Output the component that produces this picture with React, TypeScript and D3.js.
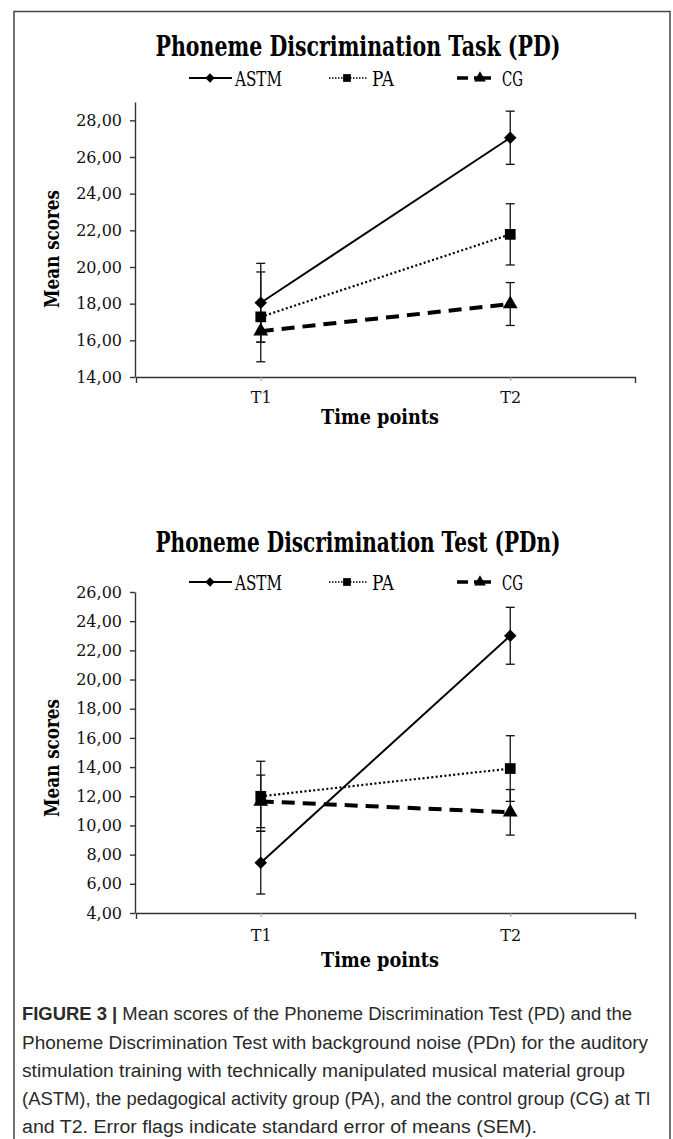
import React, { useEffect, useRef } from 'react';
import * as d3 from 'd3';

// categories
const timePoints = ['T1', 'T2'];
const groupNames = ['ASTM', 'PA', 'CG'];

// Phoneme Discrimination Task (PD): means and SEM at T1, T2
const pdAstm = [18.05, 27.05];
const pdAstmSem = [2.15, 1.45];
const pdPa = [17.28, 21.78];
const pdPaSem = [2.45, 1.67];
const pdCg = [16.5, 17.98];
const pdCgSem = [0.6, 1.17];
const pdTicks = [14, 16, 18, 20, 22, 24, 26, 28];

// Phoneme Discrimination Test with noise (PDn)
const pdnAstm = [7.45, 23.0];
const pdnAstmSem = [2.15, 1.95];
const pdnPa = [12.0, 13.9];
const pdnPaSem = [2.4, 2.25];
const pdnCg = [11.65, 10.9];
const pdnCgSem = [1.8, 1.56];
const pdnTicks = [4, 6, 8, 10, 12, 14, 16, 18, 20, 22, 24, 26];

const captionLines = [
  'Mean scores of the Phoneme Discrimination Test (PD) and the',
  'Phoneme Discrimination Test with background noise (PDn) for the auditory',
  'stimulation training with technically manipulated musical material group',
  '(ASTM), the pedagogical activity group (PA), and the control group (CG) at Tl',
  'and T2. Error flags indicate standard error of means (SEM).',
];

const SERIF = "'DejaVu Serif', serif";
const SANS = "'Liberation Sans', Arial, sans-serif";

// line style per group
const styles = {
  ASTM: { dash: null, width: 2, symbol: d3.symbolDiamond2, size: 100, legendSize: 55 },
  PA: { dash: '2 2.4', width: 2.2, symbol: d3.symbolSquare, size: 115, legendSize: 60 },
  CG: { dash: '13 8', width: 4, symbol: d3.symbolTriangle, size: 95, legendSize: 60 },
};

const panels = [
  {
    title: 'Phoneme Discrimination Task (PD)',
    titleY: 56,
    legendY: 78,
    domain: [14, 29],
    range: [377, 102],
    ticks: pdTicks,
    tickPad: 11,
    axisTitleY: 424,
    meanY: 249,
    series: [
      { name: 'ASTM', values: pdAstm, sem: pdAstmSem },
      { name: 'PA', values: pdPa, sem: pdPaSem },
      { name: 'CG', values: pdCg, sem: pdCgSem },
    ],
  },
  {
    title: 'Phoneme Discrimination Test (PDn)',
    titleY: 552,
    legendY: 582,
    domain: [4, 26],
    range: [913, 592],
    ticks: pdnTicks,
    tickPad: 13,
    axisTitleY: 967,
    meanY: 758,
    series: [
      { name: 'ASTM', values: pdnAstm, sem: pdnAstmSem },
      { name: 'PA', values: pdnPa, sem: pdnPaSem },
      { name: 'CG', values: pdnCg, sem: pdnCgSem },
    ],
  },
];

// legend x layout: line start, line end, symbol x, text x, text width
const legendPos = {
  ASTM: { x0: 189, x1: 232, sx: 210, tx: 235, tw: 47 },
  PA: { x0: 329, x1: 368, sx: 347, tx: 372, tw: 22 },
  CG: { x0: 457, x1: 491, sx: 480, tx: 502, tw: 21 },
};

const drawPanel = (svg, p) => {
  const x = d3.scalePoint().domain(timePoints).range([136, 635]).padding(0.5);
  const y = d3.scaleLinear().domain(p.domain).range(p.range);
  const g = svg.append('g');

  // title
  g.append('text')
    .attr('x', 358)
    .attr('y', p.titleY)
    .attr('text-anchor', 'middle')
    .attr('font-family', SERIF)
    .attr('font-weight', 'bold')
    .attr('font-size', 28)
    .attr('textLength', 405)
    .attr('lengthAdjust', 'spacingAndGlyphs')
    .text(p.title);

  // legend
  groupNames.forEach(name => {
    const s = styles[name];
    const lp = legendPos[name];
    const ly = p.legendY;
    if (name === 'CG') {
      g.append('line').attr('x1', lp.x0).attr('x2', lp.x0 + 11).attr('y1', ly).attr('y2', ly)
        .attr('stroke', '#000').attr('stroke-width', 3.5);
      g.append('line').attr('x1', lp.x0 + 17).attr('x2', lp.x1).attr('y1', ly).attr('y2', ly)
        .attr('stroke', '#000').attr('stroke-width', 3.5);
    } else {
      g.append('line').attr('x1', lp.x0).attr('x2', lp.x1).attr('y1', ly).attr('y2', ly)
        .attr('stroke', '#000').attr('stroke-width', name === 'PA' ? 1.6 : 2)
        .attr('stroke-dasharray', name === 'PA' ? '1.5 1.5' : null);
    }
    g.append('path')
      .attr('d', d3.symbol().type(s.symbol).size(s.legendSize)())
      .attr('transform', `translate(${lp.sx},${ly})`)
      .attr('fill', '#000');
    g.append('text')
      .attr('x', lp.tx)
      .attr('y', ly + 7.5)
      .attr('font-family', SERIF)
      .attr('font-size', 21)
      .attr('textLength', lp.tw)
      .attr('lengthAdjust', 'spacingAndGlyphs')
      .text(name);
  });

  // axes
  const yAxis = g.append('g')
    .attr('transform', 'translate(135,0)')
    .call(
      d3.axisLeft(y)
        .tickValues(p.ticks)
        .tickSize(5)
        .tickSizeOuter(0)
        .tickPadding(8)
        .tickFormat(d => d.toFixed(2).replace('.', ','))
    );
  yAxis.attr('font-family', SERIF).attr('font-size', 16);
  yAxis.selectAll('text').attr('fill', '#111');
  yAxis.selectAll('path,line').attr('stroke', '#333').attr('stroke-width', 1.4);

  const xAxis = g.append('g')
    .attr('transform', `translate(0,${p.range[0]})`)
    .call(d3.axisBottom(x).tickSize(4).tickSizeOuter(6).tickPadding(p.tickPad));
  xAxis.attr('font-family', SERIF).attr('font-size', 16);
  xAxis.selectAll('text').attr('fill', '#111');
  xAxis.selectAll('path,line').attr('stroke', '#333').attr('stroke-width', 1.4);
  xAxis.selectAll('.tick line').attr('stroke', '#999').attr('stroke-width', 1);

  // axis titles
  g.append('text')
    .attr('x', 380)
    .attr('y', p.axisTitleY)
    .attr('text-anchor', 'middle')
    .attr('font-family', SERIF)
    .attr('font-weight', 'bold')
    .attr('font-size', 20)
    .attr('textLength', 118)
    .attr('lengthAdjust', 'spacingAndGlyphs')
    .text('Time points');

  g.append('text')
    .attr('transform', `translate(59,${p.meanY}) rotate(-90)`)
    .attr('text-anchor', 'middle')
    .attr('font-family', SERIF)
    .attr('font-weight', 'bold')
    .attr('font-size', 20)
    .attr('textLength', 118)
    .attr('lengthAdjust', 'spacingAndGlyphs')
    .text('Mean scores');

  // error bars
  p.series.forEach(ser => {
    ser.values.forEach((v, i) => {
      const cx = x(timePoints[i]);
      const top = y(v + ser.sem[i]);
      const bot = y(v - ser.sem[i]);
      const eb = g.append('g').attr('stroke', '#111').attr('stroke-width', 1.3);
      eb.append('line').attr('x1', cx).attr('x2', cx).attr('y1', top).attr('y2', bot);
      eb.append('line').attr('x1', cx - 4.5).attr('x2', cx + 4.5).attr('y1', top).attr('y2', top);
      eb.append('line').attr('x1', cx - 4.5).attr('x2', cx + 4.5).attr('y1', bot).attr('y2', bot);
    });
  });

  // lines
  const line = d3.line().x((d, i) => x(timePoints[i])).y(d => y(d));
  p.series.forEach(ser => {
    const s = styles[ser.name];
    g.append('path')
      .attr('d', line(ser.values))
      .attr('fill', 'none')
      .attr('stroke', '#000')
      .attr('stroke-width', s.width)
      .attr('stroke-dasharray', s.dash);
  });

  // markers
  p.series.forEach(ser => {
    const s = styles[ser.name];
    ser.values.forEach((v, i) => {
      g.append('path')
        .attr('d', d3.symbol().type(s.symbol).size(s.size)())
        .attr('transform', `translate(${x(timePoints[i])},${y(v)})`)
        .attr('fill', '#000');
    });
  });
};

const App = () => {
  const svgRef = useRef(null);

  useEffect(() => {
    const svg = d3.select(svgRef.current);
    svg.selectAll('*').remove();

    svg.append('rect').attr('width', 673).attr('height', 1139).attr('fill', '#fff');

    // figure frame (open at the bottom)
    svg.append('path')
      .attr('d', 'M14,1139V11.5H670V1139')
      .attr('fill', 'none')
      .attr('stroke', '#444')
      .attr('stroke-width', 1.5);

    panels.forEach(p => drawPanel(svg, p));

    // caption
    const baselines = [1020, 1048.5, 1077, 1105, 1133];
    const lineWidths = [610, 626, 603, 628, 515];
    captionLines.forEach((txt, i) => {
      const t = svg.append('text')
        .attr('x', 22)
        .attr('y', baselines[i])
        .attr('font-family', SANS)
        .attr('font-size', 18)
        .attr('fill', '#2a2a2a')
        .attr('textLength', lineWidths[i])
        .attr('lengthAdjust', 'spacingAndGlyphs');
      if (i === 0) {
        t.append('tspan').attr('font-weight', 'bold').text('FIGURE 3 | ');
      }
      t.append('tspan').text(txt);
    });
  }, []);

  return (
    <svg
      ref={svgRef}
      width={673}
      height={1139}
      style={{ position: 'absolute', left: 0, top: 0 }}
    />
  );
};

export default App;
